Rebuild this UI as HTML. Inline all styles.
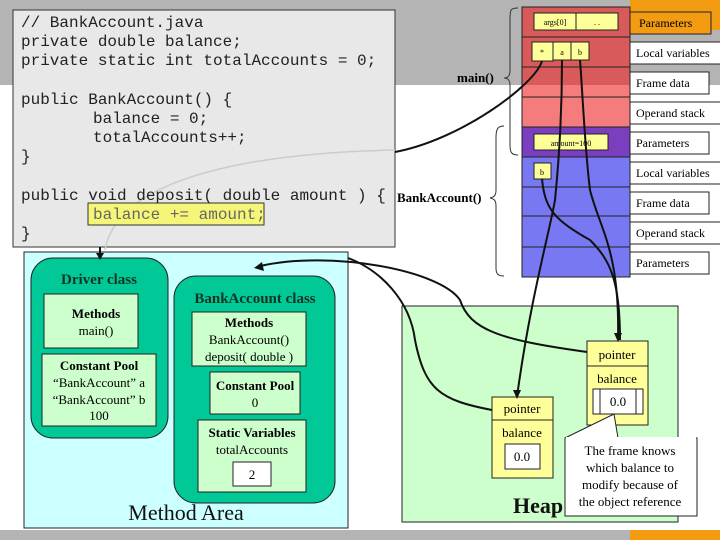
<!DOCTYPE html>
<html><head><style>body{margin:0}svg{display:block}</style></head><body>
<svg width="720" height="540" xmlns="http://www.w3.org/2000/svg" font-family="Liberation Serif, serif">
<rect width="720" height="540" fill="#fff"/>
<rect width="720" height="85" fill="#b4b4b4"/>
<rect x="630" y="0" width="90" height="30" fill="#f39c12"/>
<rect x="0" y="530" width="720" height="10" fill="#b4b4b4"/>
<rect x="630" y="530" width="90" height="10" fill="#f39c12"/>
<!-- code box -->
<rect x="13" y="10" width="382" height="237" fill="#e8e8e8" stroke="#333" stroke-width="1"/>
<path d="M395 150 C300 152 120 165 105 250" stroke="#ccc" fill="none" stroke-width="1.5"/>
<rect x="88" y="203" width="176" height="22" fill="#f5f577" stroke="#333"/>
<g font-family="Liberation Mono, monospace" font-size="16" fill="#222">
<text x="21" y="27">// BankAccount.java</text>
<text x="21" y="46">private double balance;</text>
<text x="21" y="65">private static int totalAccounts = 0;</text>
<text x="21" y="104">public BankAccount() {</text>
<text x="93" y="123">balance = 0;</text>
<text x="93" y="142">totalAccounts++;</text>
<text x="21" y="161">}</text>
<text x="21" y="200">public void deposit( double amount ) {</text>
<text x="93" y="219" fill="#666">balance += amount;</text>
<text x="21" y="238">}</text>
</g>
<!-- stack -->
<rect x="522" y="7" width="108" height="78" fill="#d85a5a"/>
<rect x="522" y="85" width="108" height="42" fill="#f57c7c"/>
<rect x="522" y="127" width="108" height="30" fill="#7a3fbf"/>
<rect x="522" y="157" width="108" height="120" fill="#7878f2"/>
<rect x="522" y="7" width="108" height="270" fill="none" stroke="#222"/>
<g stroke="#222">
<line x1="522" y1="37" x2="630" y2="37"/><line x1="522" y1="67" x2="630" y2="67"/>
<line x1="522" y1="97" x2="630" y2="97"/><line x1="522" y1="127" x2="630" y2="127"/>
<line x1="522" y1="157" x2="630" y2="157"/><line x1="522" y1="187" x2="630" y2="187"/>
<line x1="522" y1="216" x2="630" y2="216"/><line x1="522" y1="247" x2="630" y2="247"/>
</g>
<g fill="#ffff99" stroke="#222">
<rect x="534" y="13" width="42" height="17"/><rect x="576" y="13" width="42" height="17"/>
<rect x="532" y="42" width="21" height="19"/><rect x="553" y="42" width="18" height="18"/><rect x="571" y="42" width="18" height="18"/>
<rect x="534" y="134" width="74" height="16"/>
<rect x="534" y="163" width="17" height="16"/>
</g>
<g font-size="8" text-anchor="middle" fill="#000">
<text x="555" y="25">args[0]</text><text x="597" y="25">. .</text>
<text x="542" y="55">*</text><text x="562" y="55">a</text><text x="580" y="55">b</text>
<text x="571" y="146">amount=100</text><text x="542" y="175">b</text>
</g>
<g fill="#fff" stroke="#222">
<rect x="630" y="12" width="81" height="22" fill="#f39c12"/>
<rect x="630" y="42" width="99" height="22"/><rect x="630" y="72" width="79" height="22"/>
<rect x="630" y="102" width="94" height="22"/><rect x="630" y="132" width="79" height="22"/>
<rect x="630" y="162" width="99" height="22"/><rect x="630" y="192" width="79" height="22"/>
<rect x="630" y="222" width="94" height="22"/><rect x="630" y="252" width="79" height="22"/>
</g>
<g font-size="12" fill="#000">
<text x="639" y="27">Parameters</text><text x="636" y="57">Local variables</text>
<text x="636" y="87">Frame data</text><text x="636" y="117">Operand stack</text>
<text x="636" y="147">Parameters</text><text x="636" y="177">Local variables</text>
<text x="636" y="207">Frame data</text><text x="636" y="237">Operand stack</text>
<text x="636" y="267">Parameters</text>
</g>
<!-- braces -->
<g fill="none" stroke="#333">
<path d="M518 8 C510 8 510 10 510 20 L510 70 C510 76 508 78 504 78 C508 78 510 80 510 86 L510 145 C510 153 512 155 518 155"/>
<path d="M504 126 C497 126 496 130 496 138 L496 190 C496 196 494 197 490 198 C494 199 496 200 496 206 L496 268 C496 274 498 276 504 276"/>
</g>
<g font-size="13" font-weight="bold" fill="#000">
<text x="457" y="82">main()</text><text x="397" y="202">BankAccount()</text>
</g>
<!-- method area -->
<rect x="24" y="252" width="324" height="276" fill="#ccffff" stroke="#222"/>
<rect x="31" y="258" width="137" height="180" rx="22" fill="#00c897" stroke="#222"/>
<rect x="174" y="276" width="161" height="227" rx="22" fill="#00c897" stroke="#222"/>
<g fill="#ccffcc" stroke="#222">
<rect x="44" y="294" width="94" height="54"/><rect x="42" y="354" width="114" height="72"/>
<rect x="192" y="312" width="114" height="54"/><rect x="210" y="372" width="90" height="42"/>
<rect x="198" y="420" width="108" height="72"/>
</g>
<rect x="233" y="462" width="38" height="24" fill="#fff" stroke="#222"/>
<g text-anchor="middle" fill="#000" font-size="13">
<text x="99" y="284" font-weight="bold" font-size="15" fill="#113322">Driver class</text>
<text x="96" y="318" font-weight="bold">Methods</text><text x="96" y="335">main()</text>
<text x="99" y="370" font-weight="bold">Constant Pool</text>
<text x="99" y="387">“BankAccount” a</text><text x="99" y="404">“BankAccount” b</text><text x="99" y="420">100</text>
<text x="255" y="303" font-weight="bold" font-size="15" fill="#113322">BankAccount class</text>
<text x="249" y="327" font-weight="bold">Methods</text><text x="249" y="344">BankAccount()</text><text x="249" y="361">deposit( double )</text>
<text x="255" y="390" font-weight="bold">Constant Pool</text><text x="255" y="407">0</text>
<text x="252" y="437" font-weight="bold">Static Variables</text><text x="252" y="454">totalAccounts</text>
<text x="252" y="479">2</text>
<text x="186" y="520" font-size="22" fill="#111">Method Area</text>
</g>
<!-- heap -->
<rect x="402" y="306" width="276" height="216" fill="#ccffcc" stroke="#222"/>
<text x="513" y="513" font-size="22" font-weight="bold" fill="#111">Heap</text>
<g fill="#ffff99" stroke="#222">
<rect x="587" y="341" width="61" height="84"/><line x1="587" y1="366" x2="648" y2="366"/>
<rect x="492" y="397" width="61" height="81"/><line x1="492" y1="420" x2="553" y2="420"/>
</g>
<rect x="593" y="389" width="50" height="25" fill="#fff" stroke="#222"/>
<line x1="600" y1="389" x2="600" y2="414" stroke="#222"/><line x1="636" y1="389" x2="636" y2="414" stroke="#222"/>
<rect x="505" y="444" width="35" height="25" fill="#fff" stroke="#222"/>
<g text-anchor="middle" font-size="13" fill="#000">
<text x="617" y="359">pointer</text><text x="617" y="383">balance</text><text x="618" y="406">0.0</text>
<text x="522" y="413">pointer</text><text x="522" y="437">balance</text><text x="522" y="461">0.0</text>
</g>
<path d="M565 438 L614 414 L618 438 L697 438 L697 516 L565 516 Z" fill="#fff" stroke="#222"/>
<rect x="566" y="437" width="130" height="3" fill="#fff"/>
<g text-anchor="middle" font-size="13" fill="#000">
<text x="630" y="455">The frame knows</text><text x="630" y="472">which balance to</text>
<text x="630" y="489">modify because of</text><text x="630" y="506">the object reference</text>
</g>
<!-- connectors -->
<g fill="none" stroke="#111" stroke-width="2">
<path d="M542 61 C535 85 460 140 395 152"/>
<path d="M562 60 C562 100 560 150 555 200 C550 230 530 300 517 397"/>
<path d="M580 60 C583 100 585 150 590 190 C600 230 620 250 618 340"/>
<path d="M542 179 C545 210 555 220 590 240 C610 260 620 280 620 340"/>
<path d="M348 258 C380 270 410 300 415 340 C425 390 440 400 492 410"/>
<path d="M260 266 C330 250 440 270 460 300 C470 330 500 340 587 352"/>
<path d="M100 247 L100 255"/>
</g>
<g fill="#111">
<polygon points="513,390 521,390 517,399"/>
<polygon points="614,333 622,333 618,342"/>
<polygon points="254,268 262,262 264,271"/>
<polygon points="96,253 104,253 100,260"/>
</g>
</svg>
</body></html>
